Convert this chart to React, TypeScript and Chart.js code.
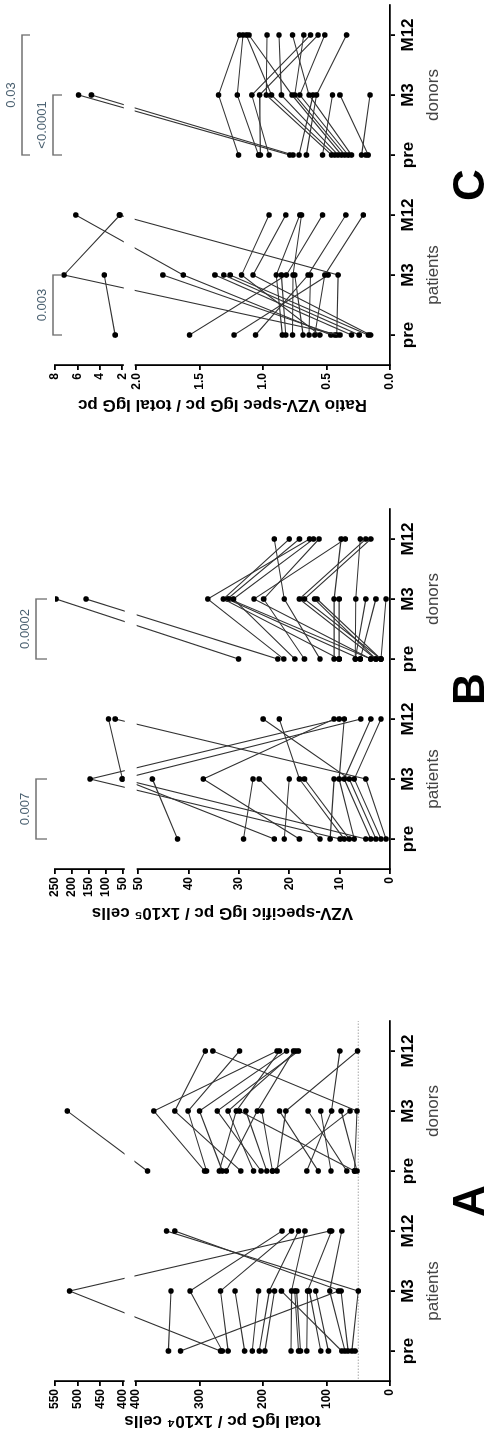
import React, { useEffect, useRef } from 'react';
import { Chart, registerables, LinearScale } from 'chart.js';

// ---------------- data ----------------
const categories = ['pre', 'M3', 'M12', 'pre', 'M3', 'M12'];
const groupLabels = ['patients', 'donors'];
const panelLetters = ['A', 'B', 'C'];
const axisTitles = [
  'total IgG pc / 1x10\u2074 cells',
  'VZV-specific IgG pc / 1x10\u2075 cells',
  'Ratio VZV-spec IgG pc / total IgG pc',
];

// Panel A: total IgG pc / 1x10^4 cells
const totalPatPre = [349, 330, 267, 264, 255, 229, 217, 206, 197, 156, 144, 141, 131, 109, 97, 76, 71, 66, 60, 55];
const totalPatM3 = [345, 81, 518, 315, 267, 244, 207, 190, 182, 155, 150, 147, 130, 127, 117, 171, 95, 77, 50, null];
const totalPatM12 = [null, null, 95, 170, 155, null, null, 144, null, 134, null, null, 92, null, null, null, 76, 339, 352, null];
const totalDonPre = [382, 292, 289, 269, 264, 258, 235, 215, 203, 194, 185, 178, 131, 113, 93, 68, 56, 52, 185, 56];
const totalDonM3 = [523, 372, 318, 242, 300, 209, 339, 255, 272, 227, 202, 164, 92, 174, 109, 129, 52, 77, 63, 237];
const totalDonM12 = [null, 178, 237, 174, 163, 152, 291, 148, 144, null, null, 51, 79, null, null, null, 279, null, null, null];
const totalTicksLower = [0, 100, 200, 300, 400];
const totalTicksUpper = [400, 450, 500, 550];
const totalTickLabels = ['0', '100', '200', '300', '400', '400', '450', '500', '550'];
const totalRefLine = 50;

// Panel B: VZV-specific IgG pc / 1x10^5 cells
const vzvPatPre = [42.2, 29.1, 23.0, 21.0, 18.0, 13.9, 11.9, 9.9, 9.1, 8.1, 7.1, 4.8, 3.8, 2.8, 1.8, 0.8];
const vzvPatM3 = [47.2, 27.2, 52, 20.0, 37.1, 26.0, 11.1, 147, 18.0, 17.0, 10.1, 53, 9.1, 8.1, 7.1, 4.8];
const vzvPatM12 = [null, null, 93, null, 11.1, null, null, 10.1, 22.0, null, 9.1, 5.8, 3.8, 25.2, 1.8, 73.5];
const vzvDonPre = [30.1, 22.3, 21.1, 18.9, 17.0, 13.9, 11.1, 10.1, 6.9, 5.9, 3.8, 2.8, 1.8, 3.8, 2.8, 1.8, 10.1, 6.9, 5.9, 1.8];
const vzvDonM3 = [247, 159, 36.2, 31.1, 25.1, 21.0, 11.1, 33.1, 6.8, 32.3, 27.0, 18.0, 17.0, 31.9, 15.0, 14.5, 10.1, 4.8, 2.8, 0.8];
const vzvDonM12 = [null, null, 16.0, 15.2, 14.1, 23.0, 9.7, 20.0, 5.9, 18.0, 8.9, 4.8, 3.8, null, null, null, null, null, null, null];
const vzvTicksLower = [0, 10, 20, 30, 40, 50];
const vzvTicksUpper = [50, 100, 150, 200, 250];
const vzvTickLabels = ['0', '10', '20', '30', '40', '50', '50', '100', '150', '200', '250'];
const vzvBracketPairs = [[0, 1], [3, 4]];
const vzvBracketLabels = ['0.007', '0.0002'];

// Panel C: ratio VZV-spec IgG pc / total IgG pc
const ratioPatPre = [0.395, 2.63, 0.435, 0.466, 0.303, 0.243, 0.171, 0.553, 0.153, 0.848, 0.822, 1.58, 0.769, 0.685, 1.06, 0.638, 0.593, 1.23, 0.42];
const ratioPatM3 = [7.2, 3.6, 1.79, 1.63, 1.38, 1.31, 1.26, 1.17, 1.08, 0.896, 0.856, 0.817, 0.764, 0.751, 0.646, 0.627, 0.514, 0.488, 0.409];
const ratioPatM12 = [2.2, null, null, 6.15, null, null, null, 0.954, 0.822, 0.711, null, 0.532, 0.698, null, 0.348, null, 0.211, null, 2.27];
const ratioDonPre = [0.79, 0.764, 1.194, 1.036, 0.954, 1.022, 0.461, 0.435, 0.409, 0.382, 0.356, 0.33, 0.303, 0.717, 0.659, 0.532, 0.171, 0.224, 0.19];
const ratioDonM3 = [5.9, 4.75, 1.352, 1.204, 1.089, 1.028, 0.975, 0.935, 0.856, 0.772, 0.751, 0.711, 0.638, 0.606, 0.58, 0.453, 0.395, 0.158, null];
const ratioDonM12 = [null, null, 1.186, 1.159, 0.627, 0.567, 0.97, 1.133, 0.875, 1.112, 0.68, 0.514, 0.769, null, 0.342, null, null, null, null];
const ratioTicksLower = [0, 0.5, 1, 1.5, 2];
const ratioTicksUpper = [2, 4, 6, 8];
const ratioTickLabels = ['0.0', '0.5', '1.0', '1.5', '2.0', '2', '4', '6', '8'];
const ratioBracketPairs = [[0, 1], [3, 4], [3, 5]];
const ratioBracketLabels = ['0.003', '<0.0001', '0.03'];

// ---------------- styling / layout ----------------
const W = 1443;
const H = 487;
const FONT = "'Liberation Sans Narrow', 'Arial Narrow', 'Liberation Sans', Arial, sans-serif";
const LINE = '#333333';

class BrokenLinearScale extends LinearScale {
  static id = 'brokenLinear';
  static defaults = {};
  getPixelForValue(value: any) {
    if (value === null || value === undefined || Number.isNaN(value)) return NaN;
    const b = (this.options as any).brk;
    const at = b.at, gap = b.gap, k = b.k;
    const v = value <= at ? value : at + gap + (value - at) * k;
    return super.getPixelForValue(v);
  }
  getValueForPixel(pixel: number) {
    const b = (this.options as any).brk;
    const v = super.getValueForPixel(pixel) as number;
    if (v <= b.at) return v;
    if (v < b.at + b.gap) return b.at;
    return b.at + (v - b.at - b.gap) / b.k;
  }
}

Chart.register(...registerables, BrokenLinearScale as any);
Chart.defaults.font.family = FONT;

type Spec = {
  key: string;
  left: number;
  width: number;
  yAxisWidth: number;
  padRight: number;
  titlePad: number;
  title: string;
  letter: string;
  groups: { pre: (number | null)[]; m3: (number | null)[]; m12: (number | null)[] }[];
  ticksLower: number[];
  ticksUpper: number[];
  tickLabels: string[];
  brk: { at: number; gap: number; k: number; max: number };
  refLine?: number;
  brackets: { pair: number[]; label: string; lineY: number; drop: number }[];
};

const specs: Spec[] = [
  {
    key: 'A', left: 0, width: 500, yAxisWidth: 62, padRight: 78, titlePad: 12,
    title: axisTitles[0], letter: panelLetters[0],
    groups: [
      { pre: totalPatPre, m3: totalPatM3, m12: totalPatM12 },
      { pre: totalDonPre, m3: totalDonM3, m12: totalDonM12 },
    ],
    ticksLower: totalTicksLower, ticksUpper: totalTicksUpper, tickLabels: totalTickLabels,
    brk: { at: 400, gap: 20.5, k: 0.714, max: 400 + 20.5 + 150 * 0.714 },
    refLine: totalRefLine,
    brackets: [],
  },
  {
    key: 'B', left: 500, width: 500, yAxisWidth: 74, padRight: 66, titlePad: 20,
    title: axisTitles[1], letter: panelLetters[1],
    groups: [
      { pre: vzvPatPre, m3: vzvPatM3, m12: vzvPatM12 },
      { pre: vzvDonPre, m3: vzvDonM3, m12: vzvDonM12 },
    ],
    ticksLower: vzvTicksLower, ticksUpper: vzvTicksUpper, tickLabels: vzvTickLabels,
    brk: { at: 50, gap: 3.0, k: 0.0677, max: 50 + 3.0 + 200 * 0.0677 },
    brackets: vzvBracketPairs.map((p, i) => ({ pair: p, label: vzvBracketLabels[i], lineY: 36, drop: 11 })),
  },
  {
    key: 'C', left: 1000, width: 443, yAxisWidth: 78, padRight: 5, titlePad: 28,
    title: axisTitles[2], letter: panelLetters[2],
    groups: [
      { pre: ratioPatPre, m3: ratioPatM3, m12: ratioPatM12 },
      { pre: ratioDonPre, m3: ratioDonM3, m12: ratioDonM12 },
    ],
    ticksLower: ratioTicksLower, ticksUpper: ratioTicksUpper, tickLabels: ratioTickLabels,
    brk: { at: 2, gap: 0.1107, k: 0.0883, max: 2 + 0.1107 + 6 * 0.0883 },
    brackets: ratioBracketPairs.map((p, i) => ({
      pair: p, label: ratioBracketLabels[i], lineY: i === 2 ? 22 : 53, drop: i === 2 ? 8 : 9,
    })),
  },
];

function decorPlugin(s: Spec) {
  return {
    id: 'decor' + s.key,
    beforeDatasetsDraw(chart: any) {
      if (s.refLine == null) return;
      const { ctx, chartArea } = chart;
      const y = chart.scales.y.getPixelForValue(s.refLine);
      ctx.save();
      ctx.strokeStyle = '#a8a8a8';
      ctx.lineWidth = 1;
      ctx.setLineDash([1.5, 1.5]);
      ctx.beginPath();
      ctx.moveTo(chartArea.left + 2, y);
      ctx.lineTo(chartArea.right, y);
      ctx.stroke();
      ctx.restore();
    },
    afterDatasetsDraw(chart: any) {
      const { ctx, chartArea } = chart;
      const ys = chart.scales.y;
      const yLow = ys.getPixelForValue(s.brk.at);
      const yUp = ys.getPixelForValue(s.brk.at * (1 + 1e-9) + 1e-12);
      ctx.save();
      ctx.fillStyle = '#ffffff';
      ctx.fillRect(chartArea.left - 4, yUp + 1.6, chartArea.right - chartArea.left + 4, yLow - yUp - 3.2);
      ctx.restore();
    },
    afterDraw(chart: any) {
      const { ctx, chartArea } = chart;
      const xs = chart.scales.x;
      ctx.save();
      // group labels
      ctx.fillStyle = '#444444';
      ctx.font = `17px ${FONT}`;
      ctx.textAlign = 'center';
      ctx.textBaseline = 'middle';
      groupLabels.forEach((g, gi) => {
        ctx.fillText(g, xs.getPixelForValue(gi * 3 + 1), 433);
      });
      // panel letter
      ctx.fillStyle = '#000000';
      ctx.font = `bold 44px ${FONT}`;
      ctx.textBaseline = 'alphabetic';
      ctx.fillText(s.letter, (chartArea.left + chartArea.right) / 2, 484);
      // brackets
      s.brackets.forEach((b) => {
        const x1 = xs.getPixelForValue(b.pair[0]);
        const x2 = xs.getPixelForValue(b.pair[1]);
        ctx.strokeStyle = '#707070';
        ctx.lineWidth = 1.3;
        ctx.beginPath();
        ctx.moveTo(x1, b.lineY + b.drop);
        ctx.lineTo(x1, b.lineY);
        ctx.lineTo(x2, b.lineY);
        ctx.lineTo(x2, b.lineY + b.drop);
        ctx.stroke();
        ctx.fillStyle = '#4a6070';
        ctx.font = `13px ${FONT}`;
        ctx.textBaseline = 'middle';
        ctx.fillText(b.label, (x1 + x2) / 2, b.lineY - 11);
      });
      ctx.restore();
    },
  };
}

function makeConfig(s: Spec): any {
  const datasets: any[] = [];
  s.groups.forEach((g, gi) => {
    const x0 = gi * 3;
    g.pre.forEach((_, i) => {
      const vals = [g.pre[i], g.m3[i], g.m12[i]];
      datasets.push({
        data: vals.map((y, j) => ({ x: x0 + j, y: y === undefined ? null : y })),
        borderColor: LINE,
        borderWidth: 1.1,
        pointRadius: 2.8,
        pointHoverRadius: 2.8,
        pointBackgroundColor: '#000000',
        pointBorderColor: '#000000',
        pointBorderWidth: 0,
        tension: 0,
        fill: false,
        spanGaps: false,
      });
    });
  });
  const tickObjs = s.ticksLower
    .map((v) => ({ value: v }))
    .concat(s.ticksUpper.map((v) => ({ value: v * (1 + 1e-9) + 1e-12 })));

  return {
    type: 'line',
    data: { datasets },
    options: {
      animation: false,
      responsive: false,
      devicePixelRatio: 1,
      events: [],
      layout: { padding: { top: 55, left: 0, right: s.padRight, bottom: 0 } },
      plugins: { legend: { display: false }, tooltip: { enabled: false } },
      scales: {
        x: {
          type: 'linear',
          min: -0.5,
          max: 5.5,
          bounds: 'data',
          afterBuildTicks: (sc: any) => {
            sc.ticks = categories.map((_, i) => ({ value: i }));
          },
          afterFit: (sc: any) => {
            sc.height = 97;
            sc.paddingLeft = 0;
            sc.paddingRight = 0;
          },
          ticks: {
            autoSkip: false,
            maxRotation: 0,
            padding: 3,
            color: '#000000',
            font: { size: 17, weight: 'bold', family: FONT },
            callback: (_v: any, i: number) => categories[i],
          },
          grid: { drawOnChartArea: false, drawTicks: true, tickLength: 5, color: '#000000', lineWidth: 1.8 },
          border: { display: true, color: '#000000', width: 1.8 },
        },
        y: {
          type: 'brokenLinear',
          min: 0,
          max: s.brk.max,
          bounds: 'data',
          brk: { at: s.brk.at, gap: s.brk.gap, k: s.brk.k },
          afterBuildTicks: (sc: any) => {
            sc.ticks = tickObjs.map((t) => ({ value: t.value }));
          },
          afterFit: (sc: any) => {
            sc.width = s.yAxisWidth;
            sc.paddingTop = 0;
            sc.paddingBottom = 0;
          },
          ticks: {
            autoSkip: false,
            padding: 3,
            color: '#000000',
            font: { size: 12, weight: 'bold', family: FONT },
            callback: (_v: any, i: number) => s.tickLabels[i],
          },
          grid: { drawOnChartArea: false, drawTicks: true, tickLength: 5, color: '#000000', lineWidth: 1.8 },
          border: { display: true, color: '#000000', width: 1.8 },
          title: {
            display: true,
            text: s.title,
            color: '#000000',
            font: { size: 17, weight: 'bold', family: FONT },
            padding: { top: s.titlePad, bottom: 0 },
          },
        },
      },
    },
    plugins: [decorPlugin(s)],
  };
}

function Panel({ spec }: { spec: Spec }) {
  const ref = useRef<HTMLCanvasElement | null>(null);
  useEffect(() => {
    if (!ref.current) return;
    const chart = new Chart(ref.current, makeConfig(spec));
    return () => chart.destroy();
  }, [spec]);
  return (
    <div style={{ position: 'absolute', left: spec.left, top: 0, width: spec.width, height: H }}>
      <canvas ref={ref} width={spec.width} height={H} style={{ width: spec.width, height: H, display: 'block' }} />
    </div>
  );
}

export default function App() {
  return (
    <div style={{ position: 'fixed', left: 0, top: 0, width: 487, height: 1443, background: '#ffffff', overflow: 'hidden' }}>
      <div
        style={{
          position: 'absolute',
          left: 0,
          top: 0,
          width: W,
          height: H,
          background: '#ffffff',
          transformOrigin: '0 0',
          transform: `translate(0px, ${W}px) rotate(-90deg)`,
        }}
      >
        {specs.map((s) => (
          <Panel key={s.key} spec={s} />
        ))}
      </div>
    </div>
  );
}
